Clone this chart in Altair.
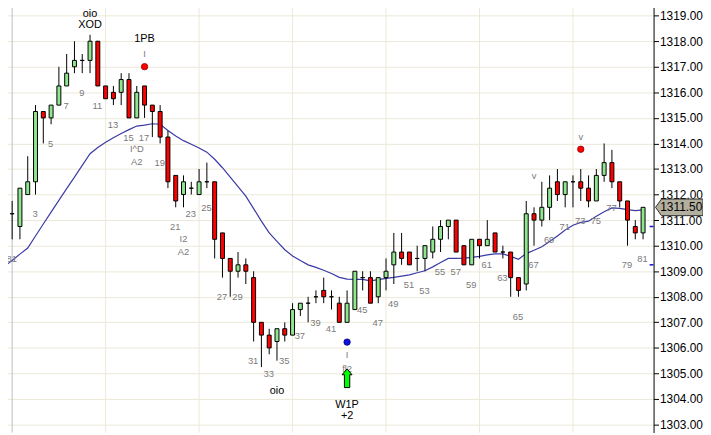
import altair as alt
import pandas as pd

# ---------------- data ----------------
bar_open = [1311.0, 1311.25, 1310.75, 1312.0, 1312.5, 1315.25, 1315.0, 1315.5, 1316.25, 1317.0,
            1317.25, 1317.25, 1318.0, 1316.25, 1316.0, 1316.0, 1316.5, 1315.0, 1316.25, 1315.5,
            1315.25, 1314.25, 1312.75, 1312.0, 1312.25, 1312.0, 1312.5, 1312.5, 1310.5, 1309.5,
            1309.0, 1309.25, 1308.75, 1307.0, 1306.5, 1306.25, 1306.75, 1306.5, 1307.5, 1307.75,
            1308.0, 1308.25, 1308.0, 1307.75, 1307.0, 1307.5, 1308.75, 1308.75, 1308.0, 1308.75,
            1309.25, 1309.75, 1309.75, 1309.5, 1309.5, 1309.75, 1310.25, 1310.75, 1311.0, 1310.0,
            1309.25, 1310.25, 1310.0, 1310.5, 1309.75, 1309.75, 1308.75, 1308.5, 1311.25, 1311.0,
            1311.5, 1312.5, 1312.0, 1312.5, 1312.5, 1312.25, 1311.75, 1312.75, 1313.25, 1312.5,
            1311.75, 1310.75, 1310.5]
bar_high = [1311.25, 1311.75, 1312.25, 1313.5, 1315.5, 1315.25, 1315.5, 1317.0, 1317.5, 1318.0,
            1317.5, 1318.25, 1318.0, 1316.25, 1316.25, 1316.75, 1316.75, 1316.25, 1316.25, 1315.5,
            1315.5, 1314.5, 1312.75, 1312.75, 1312.5, 1313.0, 1313.25, 1312.5, 1310.5, 1309.5,
            1309.75, 1309.5, 1309.0, 1307.0, 1306.75, 1306.75, 1307.0, 1307.75, 1307.75, 1308.0,
            1308.25, 1308.75, 1308.25, 1308.0, 1308.25, 1309.0, 1309.0, 1309.0, 1308.75, 1309.5,
            1310.5, 1310.5, 1309.75, 1310.0, 1310.0, 1310.75, 1311.0, 1311.0, 1311.0, 1310.0,
            1310.25, 1310.25, 1311.0, 1310.5, 1310.0, 1309.75, 1308.75, 1311.75, 1311.5, 1312.5,
            1312.75, 1313.0, 1312.5, 1312.75, 1313.0, 1312.75, 1313.0, 1314.0, 1313.75, 1312.5,
            1311.75, 1311.0, 1311.5]
bar_low = [1311.0, 1310.25, 1310.25, 1312.0, 1312.0, 1314.0, 1314.75, 1315.5, 1316.25, 1316.75,
           1316.75, 1316.75, 1316.25, 1315.75, 1315.5, 1315.5, 1315.0, 1315.0, 1315.0, 1314.25,
           1314.0, 1312.25, 1311.5, 1311.5, 1312.0, 1312.0, 1312.25, 1309.5, 1308.75, 1308.0,
           1308.75, 1308.5, 1306.25, 1305.25, 1305.75, 1305.5, 1306.25, 1306.5, 1307.25, 1307.0,
           1307.75, 1307.75, 1307.5, 1307.0, 1307.0, 1307.5, 1308.25, 1307.75, 1307.75, 1308.25,
           1308.5, 1309.25, 1309.25, 1309.0, 1309.0, 1309.5, 1309.75, 1310.25, 1309.75, 1309.25,
           1309.25, 1309.5, 1310.0, 1309.75, 1309.5, 1308.0, 1308.0, 1308.25, 1310.0, 1310.75,
           1311.0, 1311.75, 1311.5, 1311.5, 1311.75, 1311.5, 1311.75, 1312.5, 1312.25, 1311.5,
           1310.0, 1310.25, 1310.25]
bar_close = [1311.25, 1311.25, 1312.25, 1312.5, 1315.25, 1315.0, 1315.5, 1316.25, 1316.75, 1317.25,
             1317.25, 1318.0, 1316.25, 1315.75, 1315.75, 1316.5, 1315.0, 1316.0, 1315.5, 1315.25,
             1314.25, 1312.5, 1311.75, 1312.5, 1312.25, 1312.5, 1312.5, 1310.25, 1309.5, 1309.0,
             1309.25, 1309.0, 1307.0, 1306.5, 1306.0, 1306.75, 1306.5, 1307.5, 1307.75, 1307.75,
             1308.0, 1308.0, 1308.0, 1307.0, 1307.75, 1309.0, 1308.75, 1307.75, 1308.75, 1309.0,
             1309.75, 1309.5, 1309.25, 1309.5, 1310.0, 1310.25, 1310.75, 1311.0, 1309.75, 1309.25,
             1310.25, 1310.0, 1310.25, 1309.75, 1309.75, 1308.75, 1308.25, 1311.25, 1311.0, 1311.5,
             1312.25, 1312.0, 1312.5, 1312.5, 1312.25, 1311.75, 1312.75, 1313.25, 1312.5, 1311.75,
             1311.0, 1310.5, 1311.5]
ma_value = [1309.19, 1309.42, 1309.67, 1309.91, 1310.38, 1310.85, 1311.31, 1311.77, 1312.23, 1312.68,
            1313.14, 1313.60, 1313.84, 1314.05, 1314.22, 1314.39, 1314.54, 1314.68, 1314.72, 1314.77,
            1314.75, 1314.51, 1314.29, 1314.11, 1313.97, 1313.82, 1313.66, 1313.38, 1313.05, 1312.68,
            1312.31, 1311.94, 1311.45, 1310.96, 1310.50, 1310.17, 1309.84, 1309.60, 1309.42, 1309.25,
            1309.15, 1309.04, 1308.91, 1308.76, 1308.69, 1308.68, 1308.68, 1308.62, 1308.67, 1308.72,
            1308.76, 1308.81, 1308.86, 1308.94, 1309.02, 1309.17, 1309.34, 1309.50, 1309.50, 1309.51,
            1309.54, 1309.58, 1309.64, 1309.68, 1309.68, 1309.58, 1309.47, 1309.69, 1309.82, 1309.96,
            1310.16, 1310.38, 1310.61, 1310.80, 1310.91, 1310.96, 1311.15, 1311.33, 1311.48, 1311.46,
            1311.41, 1311.37, 1311.40]
bar_number = [80, 81] + list(range(1, 82))
hidden_numbers = [1, 43]
hour_bars = [1, 13, 25, 37, 49, 61, 73]
price_ticks = list(range(1303, 1320))
last_price = 1311.50
marker_levels = [1310.75, 1309.25]

ann_bar = [11, 11, 18, 18, 68, 74, 17, 17, 23, 23, 35, 44, 44, 44, 44]
ann_text = ["oio", "XOD", "1PB", "I", "v", "v", "I^D", "A2", "I2", "A2", "oio", "I", "fl2", "W1P", "+2"]
ann_side = ["high"] * 6 + ["low"] * 9
ann_dark = [True, True, True, False, False, False, False, False, False, False, True, False, False, True, True]
dot_bar = [18, 74, 44]
dot_side = ["high", "high", "low"]
dot_red = [True, True, False]
arrow_bar = [44]

# ---------------- layout ----------------
PLOT_W, PLOT_H = 661, 435
BAR_PX, X_SHIFT = 8.0, -0.7
PX = 25.85                      # pixels per price unit
Y_TOP = 1319 + 13.3 / PX
Y_BOT = Y_TOP - PLOT_H / PX
x_dom = [(0 - X_SHIFT) / BAR_PX, (PLOT_W - X_SHIFT) / BAR_PX]
ann_off = [21, 9.5, 47, 32, 32, 32, 32, 45, 32, 45, 31, 33, 47, 84, 95]
dot_off = [19.5, 20, 20]
arrow_off = 57
FONT = "Liberation Sans"
GRAY = "#7a7a7a"

n = len(bar_open)
bars = pd.DataFrame({"i": range(n), "open": bar_open, "high": bar_high, "low": bar_low,
                     "close": bar_close, "ma": ma_value, "num": bar_number})
bars["fill"] = ["#8FE68F" if c > o else ("#FF0000" if c < o else "#000000")
                for o, c in zip(bars.open, bars.close)]
labels = bars[(bars.num % 2 == 1) & (~bars.num.isin(hidden_numbers))].copy()
labels["ly"] = labels.low - 20 / PX
labels["txt"] = labels.num.astype(str)

ann = pd.DataFrame({"i": ann_bar, "txt": ann_text, "side": ann_side, "dark": ann_dark, "off": ann_off})
ann["ly"] = [bar_high[b] + o / PX if s == "high" else bar_low[b] - o / PX
             for b, s, o in zip(ann.i, ann.side, ann.off)]
ann["col"] = ["#000000" if d else GRAY for d in ann.dark]
ann["fs"] = [11 if d else 9.5 for d in ann.dark]

dots = pd.DataFrame({"i": dot_bar, "side": dot_side, "red": dot_red, "off": dot_off})
dots["ly"] = [bar_high[b] + o / PX if s == "high" else bar_low[b] - o / PX
              for b, s, o in zip(dots.i, dots.side, dots.off)]
dots["fillc"] = ["#FF0000" if r else "#1010E0" for r in dots.red]
dots["strokec"] = ["#900000" if r else "#000070" for r in dots.red]

arrows = pd.DataFrame({"i": arrow_bar})
arrows["ly"] = [bar_low[b] - arrow_off / PX for b in arrow_bar]

hours = pd.DataFrame({"i": hour_bars})
hours["col"] = ["#BDBDBD"] + ["#ECE9D8"] * (len(hour_bars) - 1)
lastp = pd.DataFrame({"p": [last_price], "txt": [f"{last_price:.2f}"]})
marks = pd.DataFrame({"p": marker_levels})

xs = alt.Scale(domain=x_dom, nice=False, zero=False)
ys = alt.Scale(domain=[Y_BOT, Y_TOP], nice=False, zero=False)
X = alt.X("i:Q", scale=xs, axis=None)

yaxis = alt.Axis(orient="right", values=price_ticks, format=".2f", grid=True, gridColor="#ECE9D8",
                 gridWidth=1, tickSize=5, tickColor="#000000", domainColor="#000000",
                 labelFont=FONT, labelFontSize=12, labelColor="#000000", labelPadding=1,
                 labelOverlap=False, labelFlush=False, title=None)


def Y(field):
    return alt.Y(field, scale=ys, axis=yaxis, title=None)


vgrid = alt.Chart(hours).mark_rule(strokeWidth=1).encode(x=X, color=alt.Color("col:N", scale=None))

ma = alt.Chart(bars).mark_line(color="#3A3AA6", strokeWidth=1.2, clip=True).encode(
    x=X, y=Y("ma:Q"))

wick = alt.Chart(bars).mark_rule(color="#000000", strokeWidth=1, clip=True).encode(
    x=X, y=Y("low:Q"), y2="high:Q")

body = alt.Chart(bars).mark_bar(size=4, stroke="#000000", strokeWidth=1, clip=True).encode(
    x=X, y=Y("open:Q"), y2="close:Q",
    fill=alt.Fill("fill:N", scale=None))

nums = alt.Chart(labels).mark_text(font=FONT, fontSize=9.5, color=GRAY, baseline="middle",
                                   align="center", dx=-0.5, clip=True).encode(
    x=X, y=Y("ly:Q"), text="txt:N")

anns = alt.Chart(ann).mark_text(font=FONT, baseline="middle", align="center", clip=True).encode(
    x=X, y=Y("ly:Q"), text="txt:N",
    color=alt.Color("col:N", scale=None), size=alt.Size("fs:Q", scale=None))

dot_layer = alt.Chart(dots).mark_point(shape="circle", filled=True, size=42, strokeWidth=0.8,
                                        opacity=1).encode(
    x=X, y=Y("ly:Q"),
    fill=alt.Fill("fillc:N", scale=None), stroke=alt.Stroke("strokec:N", scale=None))

arrow_shape = "M0,-1L0.5,-0.4L0.27,-0.4L0.27,0.9L-0.27,0.9L-0.27,-0.4L-0.5,-0.4Z"
arrow_layer = alt.Chart(arrows).mark_point(shape=arrow_shape, size=400, filled=True, fill="#00FF00",
                                           stroke="#000000", strokeWidth=1, opacity=1).encode(
    x=X, y=Y("ly:Q"))

tick_layer = alt.Chart(marks).mark_rule(color="#1010D0", strokeWidth=1.5).encode(
    x=alt.value(657), x2=alt.value(661), y=Y("p:Q"))

box_shape = "M-1,0L-0.75,-0.35L1,-0.35L1,0.35L-0.75,0.35Z"
box = alt.Chart(lastp).mark_point(shape=box_shape, size=2304, filled=True, fill="#B3AF9F",
                                  stroke="#303030", strokeWidth=1, opacity=1).encode(
    x=alt.value(687), y=Y("p:Q"))
box_txt = alt.Chart(lastp).mark_text(font=FONT, fontSize=12, color="#000000", align="center",
                                     baseline="middle").encode(
    x=alt.value(689), y=Y("p:Q"), text="txt:N")

chart = alt.layer(vgrid, ma, wick, body, nums, anns, dot_layer, arrow_layer, tick_layer, box, box_txt).properties(
    width=PLOT_W, height=PLOT_H,
    autosize=alt.AutoSizeParams(type="none"),
    padding={"left": -8, "top": -8, "right": 50, "bottom": 0},
    background="#FFFFFF",
).configure_view(stroke=None)

chart.save("out.html", embed_options={"renderer": "svg", "actions": False})
